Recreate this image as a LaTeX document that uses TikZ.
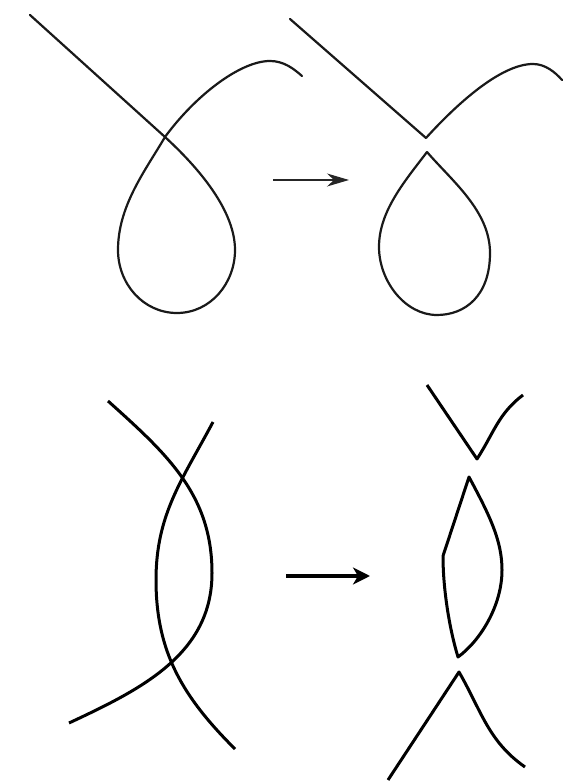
\documentclass[tikz,border=0pt]{standalone}
\usepackage{tikz}
\usetikzlibrary{arrows.meta}

\begin{document}
\begin{tikzpicture}[x=1pt, y=1pt,
    thinline/.style={line width=2.2pt, line join=round, line cap=round, black!90},
    thickline/.style={line width=3pt, line join=round, black},
    tarr/.style={-{Stealth[length=22pt, width=13pt, inset=7pt]}, line width=1.2pt, black!85},
    barr/.style={-{Stealth[length=17pt, width=17pt, inset=5pt]}, line width=3.2pt}
]
\useasboundingbox (0,0) rectangle (583,781);

% top: loop before and after
\draw[thinline] (30,766) -- (165,644) .. controls (190,621) and (235,575) .. (235,531)
    to[out=-90,in=0] (177,468) to[out=180,in=-90] (118,531)
    .. controls (118,575) and (145,610) .. (165,644)
    .. controls (195,685) and (240,720) .. (270,720) .. controls (284,720) and (294,712) .. (302,705);
\coordinate (t1) at (273,601);
\coordinate (t2) at (349,601);
\draw[tarr] (t1) -- (t2);
\draw[thinline] (290,762) -- (426,643) .. controls (455,675) and (500,717) .. (533,717)
    .. controls (545,717) and (555,709) .. (562,701);
\draw[thinline] (427,629) .. controls (452,600) and (490,570) .. (490,528)
    .. controls (490,485) and (465,466) .. (437,466)
    .. controls (405,466) and (379,500) .. (379,534)
    .. controls (379,570) and (405,600) .. (427,629);

% bottom: two crossing arcs before and after
\draw[thickline] (108,380) to[out=-42,in=90] (212,208) to[out=-90,in=25] (69,58);
\draw[thickline] (213,359) to[out=-118,in=90] (156,201) to[out=-90,in=135] (235,32);
\coordinate (b1) at (286,205);
\coordinate (b2) at (370,205);
\draw[barr] (b1) -- (b2);
\draw[thickline] (427,396) -- (477,322) to[out=57,in=217] (523,386);
\draw[thickline] (469,304) .. controls (490,265) and (502,240) .. (502,211)
    .. controls (502,175) and (480,140) .. (458,124)
    .. controls (450,150) and (443,190) .. (443,225) -- cycle;
\draw[thickline] (388,1) -- (459,109) to[out=-60,in=145] (525,14);
\end{tikzpicture}
\end{document}
